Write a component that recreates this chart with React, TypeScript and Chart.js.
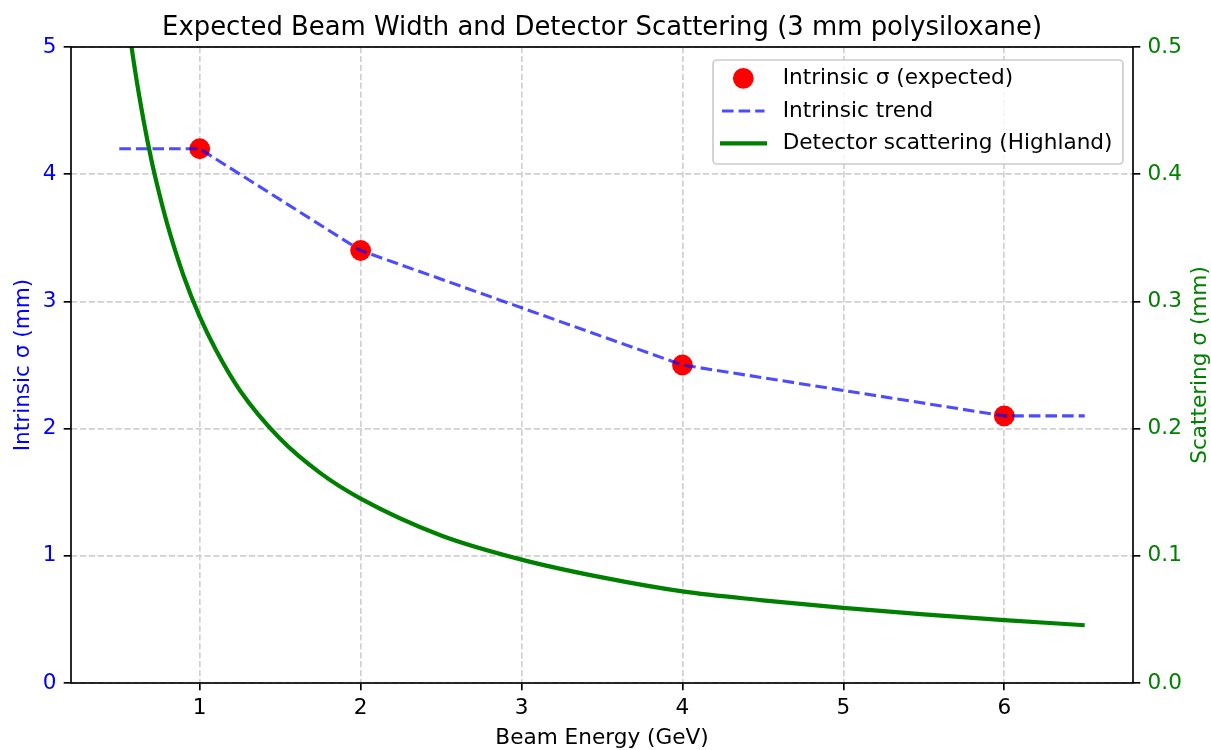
import React, { useEffect, useRef } from 'react';
import { Chart, registerables } from 'chart.js';

Chart.register(...registerables);

const FONT = '"DejaVu Sans", Verdana, sans-serif';
const FS = 21.6;
const TITLE_FS = 25.9;

// ---- data ----
const measuredEnergies = [1, 2, 4, 6];
const intrinsicSigma = [4.2, 3.4, 2.5, 2.1];

const trendEnergies = [0.5, 1, 2, 4, 6, 6.5];
const trendSigma = [4.2, 4.2, 3.4, 2.5, 2.1, 2.1];

const scatterEnergies = [0.5, 0.55, 0.6, 0.65, 0.7, 0.75, 0.8, 0.9, 1.0, 1.1, 1.25, 1.5, 1.75, 2.0, 2.5, 3.0, 3.5, 4.0, 4.5, 5.0, 5.5, 6.0, 6.5];
const scatterSigma = [0.576, 0.524, 0.48, 0.443, 0.411, 0.384, 0.36, 0.32, 0.288, 0.262, 0.23, 0.192, 0.165, 0.145, 0.116, 0.097, 0.083, 0.072, 0.065, 0.059, 0.054, 0.0495, 0.0454];

const xTicks = [1, 2, 3, 4, 5, 6];
const leftTicks = [0, 1, 2, 3, 4, 5];
const rightTicks = [0, 0.1, 0.2, 0.3, 0.4, 0.5];

const titleText = 'Expected Beam Width and Detector Scattering (3 mm polysiloxane)';
const xLabel = 'Beam Energy (GeV)';
const leftLabel = 'Intrinsic σ (mm)';
const rightLabel = 'Scattering σ (mm)';
const legendLabels = ['Intrinsic σ (expected)', 'Intrinsic trend', 'Detector scattering (Highland)'];

const BLUE = '#0000ff';
const GREEN = '#008000';
const TREND = 'rgba(0,0,255,0.7)';
const GRID = '#d0d0d0';
const LW = 1.67;

const decorPlugin = {
  id: 'decor',
  afterDatasetsDraw(chart: any) {
    const { ctx, chartArea: a } = chart;
    ctx.save();
    ctx.strokeStyle = '#000';
    ctx.lineWidth = LW;
    ctx.strokeRect(a.left, a.top, a.right - a.left, a.bottom - a.top);
    ctx.restore();
  },
  afterDraw(chart: any) {
    const { ctx, chartArea: a } = chart;
    const cx = (a.left + a.right) / 2;
    const cy = (a.top + a.bottom) / 2;
    ctx.save();
    // title
    ctx.fillStyle = '#000';
    ctx.font = `${TITLE_FS}px ${FONT}`;
    ctx.textAlign = 'center';
    ctx.textBaseline = 'alphabetic';
    ctx.fillText(titleText, cx, 35);
    // x label
    ctx.font = `${FS}px ${FONT}`;
    ctx.fillText(xLabel, cx, 744);
    // left label
    ctx.save();
    ctx.translate(29, cy);
    ctx.rotate(-Math.PI / 2);
    ctx.fillStyle = BLUE;
    ctx.fillText(leftLabel, 0, 0);
    ctx.restore();
    // right label
    ctx.save();
    ctx.translate(1206, cy);
    ctx.rotate(-Math.PI / 2);
    ctx.fillStyle = GREEN;
    ctx.fillText(rightLabel, 0, 0);
    ctx.restore();

    // legend
    const bx = 713, by = 60, bw = 410, bh = 104, r = 4;
    ctx.beginPath();
    ctx.moveTo(bx + r, by);
    ctx.lineTo(bx + bw - r, by);
    ctx.arcTo(bx + bw, by, bx + bw, by + r, r);
    ctx.lineTo(bx + bw, by + bh - r);
    ctx.arcTo(bx + bw, by + bh, bx + bw - r, by + bh, r);
    ctx.lineTo(bx + r, by + bh);
    ctx.arcTo(bx, by + bh, bx, by + bh - r, r);
    ctx.lineTo(bx, by + r);
    ctx.arcTo(bx, by, bx + r, by, r);
    ctx.closePath();
    ctx.fillStyle = 'rgba(255,255,255,0.8)';
    ctx.fill();
    ctx.strokeStyle = '#cccccc';
    ctx.lineWidth = LW;
    ctx.stroke();

    const rows = [78.3, 111, 143.3];
    // marker
    ctx.beginPath();
    ctx.arc(743.3, rows[0], 10.4, 0, Math.PI * 2);
    ctx.fillStyle = 'red';
    ctx.fill();
    // dashed
    ctx.beginPath();
    ctx.setLineDash([11.6, 5]);
    ctx.moveTo(722, rows[1]);
    ctx.lineTo(764.5, rows[1]);
    ctx.strokeStyle = TREND;
    ctx.lineWidth = 3.1;
    ctx.stroke();
    ctx.setLineDash([]);
    // solid green
    ctx.beginPath();
    ctx.moveTo(720, rows[2]);
    ctx.lineTo(767, rows[2]);
    ctx.strokeStyle = GREEN;
    ctx.lineWidth = 4.2;
    ctx.stroke();

    ctx.fillStyle = '#000';
    ctx.font = `${FS}px ${FONT}`;
    ctx.textAlign = 'left';
    ctx.textBaseline = 'middle';
    legendLabels.forEach((t, i) => ctx.fillText(t, 782.7, rows[i]));
    ctx.restore();
  },
};

export default function App() {
  const ref = useRef<HTMLCanvasElement | null>(null);

  useEffect(() => {
    if (!ref.current) return;
    const tickFont = { family: FONT, size: FS };
    const gridCommon = {
      color: GRID,
      lineWidth: LW,
      tickColor: '#000',
      tickLength: 7.3,
      tickWidth: LW,
      tickBorderDash: [],
    };
    const chart = new Chart(ref.current, {
      type: 'line',
      data: {
        datasets: [
          {
            label: legendLabels[2],
            data: scatterEnergies.map((x, i) => ({ x, y: scatterSigma[i] })),
            yAxisID: 'y1',
            borderColor: GREEN,
            borderWidth: 4.2,
            pointRadius: 0,
            cubicInterpolationMode: 'monotone',
            fill: false,
          },
          {
            label: legendLabels[1],
            data: trendEnergies.map((x, i) => ({ x, y: trendSigma[i] })),
            yAxisID: 'y',
            borderColor: TREND,
            borderWidth: 3.1,
            borderDash: [11.6, 5],
            pointRadius: 0,
            tension: 0,
            fill: false,
          },
          {
            label: legendLabels[0],
            data: measuredEnergies.map((x, i) => ({ x, y: intrinsicSigma[i] })),
            yAxisID: 'y',
            showLine: false,
            pointRadius: 10.4,
            pointBackgroundColor: 'red',
            pointBorderWidth: 0,
            borderColor: 'red',
            backgroundColor: 'red',
          },
        ],
      },
      options: {
        animation: false,
        responsive: false,
        devicePixelRatio: 1,
        events: [],
        layout: { padding: { top: 47, left: 0, right: 0, bottom: 0 } },
        plugins: {
          legend: { display: false },
          title: { display: false },
          tooltip: { enabled: false },
        },
        scales: {
          x: {
            type: 'linear',
            position: 'bottom',
            min: 0.2,
            max: 6.8,
            afterBuildTicks: (s: any) => { s.ticks = xTicks.map((v) => ({ value: v })); },
            afterFit: (s: any) => { s.height = 67; },
            ticks: { color: '#000', font: tickFont, padding: 5, maxRotation: 0, callback: (v: any) => String(v) },
            grid: gridCommon,
            border: { display: false, dash: [6.2, 2.7] },
          },
          y: {
            type: 'linear',
            position: 'left',
            min: 0,
            max: 5,
            afterBuildTicks: (s: any) => { s.ticks = leftTicks.map((v) => ({ value: v })); },
            afterFit: (s: any) => { s.width = 71; },
            ticks: { color: BLUE, font: tickFont, padding: 7.3, callback: (v: any) => String(v) },
            grid: gridCommon,
            border: { display: false, dash: [6.2, 2.7] },
          },
          y1: {
            type: 'linear',
            position: 'right',
            min: 0,
            max: 0.5,
            afterBuildTicks: (s: any) => { s.ticks = rightTicks.map((v) => ({ value: v })); },
            afterFit: (s: any) => { s.width = 78; },
            ticks: { color: GREEN, font: tickFont, padding: 7.3, callback: (v: any) => Number(v).toFixed(1) },
            grid: { ...gridCommon, drawOnChartArea: false },
            border: { display: false },
          },
        },
      },
      plugins: [decorPlugin],
    } as any);
    return () => chart.destroy();
  }, []);

  return (
    <div style={{ position: 'fixed', left: 0, top: 0, width: 1211, height: 750, background: '#fff' }}>
      <canvas ref={ref} width={1211} height={750} style={{ display: 'block' }} />
    </div>
  );
}
